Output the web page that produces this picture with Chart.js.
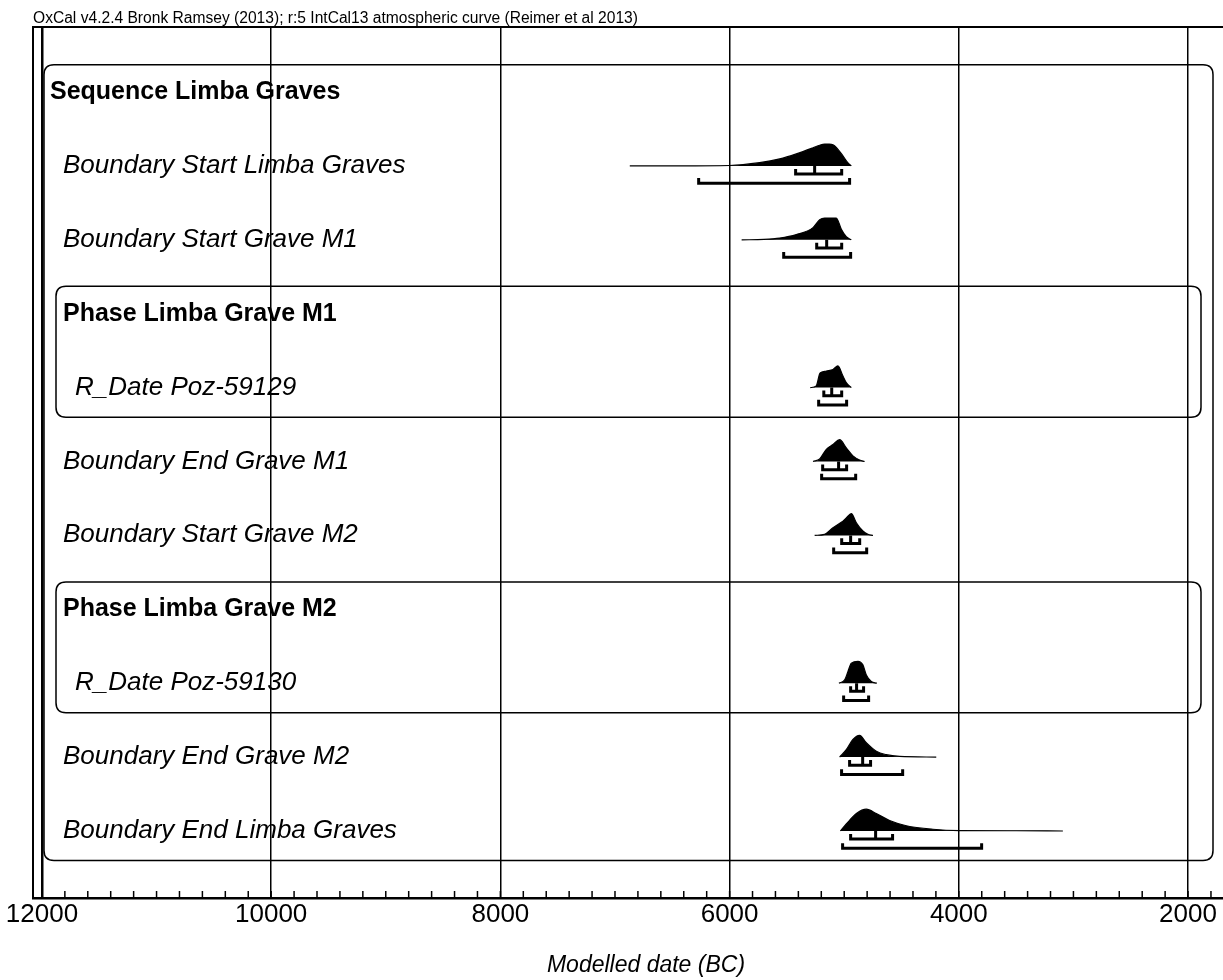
<!DOCTYPE html>
<html><head><meta charset="utf-8">
<script src="https://cdn.jsdelivr.net/npm/chart.js@4.4.1/dist/chart.umd.min.js"></script>
<style>html,body{margin:0;padding:0;background:#fff;} #wrap{width:1223px;height:980px;position:relative;}</style>
</head><body><div id="wrap"><canvas id="c" width="1223" height="980"></canvas></div>
<script>
const headerText = 'OxCal v4.2.4 Bronk Ramsey (2013); r:5 IntCal13 atmospheric curve (Reimer et al 2013)';
const axisTitle = 'Modelled date (BC)';
const rowLabels = ['Sequence Limba Graves','Boundary Start Limba Graves','Boundary Start Grave M1','Phase Limba Grave M1','R_Date Poz-59129','Boundary End Grave M1','Boundary Start Grave M2','Phase Limba Grave M2','R_Date Poz-59130','Boundary End Grave M2','Boundary End Limba Graves'];
const rowKinds = ['sequence','boundary','boundary','phase','date','boundary','boundary','phase','date','boundary','boundary'];
const groupStartRows = [0, 3, 7];
const groupEndRows = [10, 4, 8];
const xTickValues = [12000, 10000, 8000, 6000, 4000, 2000];

// posterior density outlines (year BC, relative probability)
const startLimbaYears = [6871, 6435, 6000, 5738, 5563, 5418, 5272, 5214, 5171, 5130, 5098, 5069, 5011, 4967, 4938];
const startLimbaDensity = [0, 0, 0.02, 0.15, 0.32, 0.55, 0.83, 0.95, 1, 1, 0.97, 0.85, 0.46, 0.14, 0];
const startM1Years = [5895, 5700, 5563, 5418, 5272, 5214, 5171, 5069, 5025, 4982, 4938];
const startM1Density = [0, 0.02, 0.08, 0.24, 0.56, 0.92, 1, 1, 0.48, 0.14, 0];
const poz59129Years = [5296, 5244, 5214, 5200, 5156, 5098, 5055, 5011, 4982, 4938];
const poz59129Density = [0, 0.08, 0.64, 0.7, 0.76, 0.83, 1, 0.53, 0.23, 0];
const endM1Years = [5272, 5214, 5156, 5098, 5040, 4982, 4924, 4866, 4822];
const endM1Density = [0, 0.12, 0.56, 0.78, 1, 0.63, 0.26, 0.07, 0];
const startM2Years = [5258, 5171, 5098, 5025, 4982, 4938, 4894, 4837, 4793, 4749];
const startM2Density = [0, 0.05, 0.35, 0.6, 0.8, 1, 0.58, 0.2, 0.05, 0];
const poz59130Years = [5046, 4996, 4967, 4938, 4880, 4837, 4807, 4764, 4715];
const poz59130Density = [0, 0.15, 0.54, 0.92, 1, 0.84, 0.38, 0.08, 0];
const endM2Years = [5040, 4982, 4924, 4866, 4807, 4720, 4633, 4517, 4197];
const endM2Density = [0, 0.34, 0.81, 1, 0.66, 0.27, 0.11, 0.03, 0];
const endLimbaYears = [5034, 4982, 4894, 4807, 4720, 4604, 4458, 4226, 3993, 3498, 3092];
const endLimbaDensity = [0, 0.32, 0.8, 1, 0.8, 0.48, 0.24, 0.08, 0.02, 0.01, 0];

const distRows = [1, 2, 4, 5, 6, 8, 9, 10];
const distYears = [startLimbaYears, startM1Years, poz59129Years, endM1Years, startM2Years, poz59130Years, endM2Years, endLimbaYears];
const distDensity = [startLimbaDensity, startM1Density, poz59129Density, endM1Density, startM2Density, poz59130Density, endM2Density, endLimbaDensity];

// highest posterior density ranges and medians
const range68From = [5424, 5240, 5178, 5188, 5022, 4944, 4953, 4944];
const range68To   = [5022, 5022, 5022, 4979, 4865, 4831, 4770, 4578];
const medianYears = [5258, 5153, 5109, 5049, 4944, 4892, 4839, 4726];
const range95From = [6270, 5528, 5223, 5197, 5092, 5005, 5023, 5014];
const range95To   = [4953, 4944, 4979, 4900, 4804, 4787, 4490, 3801];

const FONT = '"Liberation Sans", Arial, Helvetica, sans-serif';
const PEAK = 0.295, OFF68 = 0.11, OFF95 = 0.235, HOOK = 0.07;

const datasets = [];
distRows.forEach((row, i) => {
  datasets.push({
    data: distYears[i].map((yr, j) => ({x: yr, y: row - PEAK * distDensity[i][j]})),
    borderColor: '#000', backgroundColor: '#000', borderWidth: 1.2,
    fill: {value: row}, pointRadius: 0, cubicInterpolationMode: 'monotone'
  });
  const bracket = (a, b, off) => ({
    data: [{x: a, y: row + off - HOOK}, {x: a, y: row + off}, {x: b, y: row + off}, {x: b, y: row + off - HOOK}],
    borderColor: '#000', borderWidth: 3, fill: false, pointRadius: 0, tension: 0, borderJoinStyle: 'miter'
  });
  datasets.push(bracket(range68From[i], range68To[i], OFF68));
  datasets.push(bracket(range95From[i], range95To[i], OFF95));
  datasets.push({
    data: [{x: medianYears[i], y: row}, {x: medianYears[i], y: row + OFF68}],
    borderColor: '#000', borderWidth: 3, fill: false, pointRadius: 0
  });
});

function roundBox(ctx, l, t, r, b, rad) {
  ctx.beginPath();
  ctx.moveTo(l + rad, t); ctx.lineTo(r - rad, t); ctx.quadraticCurveTo(r, t, r, t + rad);
  ctx.lineTo(r, b - rad); ctx.quadraticCurveTo(r, b, r - rad, b);
  ctx.lineTo(l + rad, b); ctx.quadraticCurveTo(l, b, l, b - rad);
  ctx.lineTo(l, t + rad); ctx.quadraticCurveTo(l, t, l + rad, t);
  ctx.stroke();
}

const deco = {
  id: 'deco',
  afterDraw(chart) {
    const {ctx, chartArea: a, scales: {x, y}} = chart;
    ctx.save();
    ctx.strokeStyle = '#000'; ctx.fillStyle = '#000';
    // frame
    ctx.lineWidth = 2;
    ctx.beginPath(); ctx.moveTo(a.left, a.bottom); ctx.lineTo(a.left, a.top); ctx.lineTo(a.right, a.top); ctx.stroke();
    // minor ticks
    ctx.lineWidth = 1.5;
    const step = 200;
    for (let v = Math.ceil(x.min / step) * step; v <= x.max; v += step) {
      const px = x.getPixelForValue(v);
      ctx.beginPath(); ctx.moveTo(px, a.bottom); ctx.lineTo(px, a.bottom - 7); ctx.stroke();
    }
    // group boxes
    ctx.lineWidth = 1.5;
    groupStartRows.forEach((s, i) => {
      const inset = rowKinds[s] === 'sequence' ? 11 : 23;
      const rinset = rowKinds[s] === 'sequence' ? 10 : 22;
      roundBox(ctx, a.left + inset, y.getPixelForValue(s - 0.37), a.right - rinset, y.getPixelForValue(groupEndRows[i] + 0.4), 10);
    });
    // row labels
    ctx.textBaseline = 'alphabetic'; ctx.textAlign = 'left';
    rowLabels.forEach((lab, i) => {
      const k = rowKinds[i];
      const bold = k === 'sequence' || k === 'phase';
      ctx.font = (bold ? 'bold 25px ' : 'italic 26px ') + FONT;
      const indent = k === 'sequence' ? 17 : (k === 'date' ? 42 : 30);
      ctx.fillText(lab, a.left + indent, y.getPixelForValue(i) + 7);
    });
    // header
    ctx.font = '15.6px ' + FONT;
    ctx.fillText(headerText, a.left, a.top - 4);
    // axis title
    ctx.font = 'italic 23px ' + FONT;
    ctx.textAlign = 'center';
    ctx.fillText(axisTitle, (a.left + a.right) / 2 + 18, 972);
    ctx.restore();
  }
};

new Chart(document.getElementById('c'), {
  type: 'line',
  data: {datasets},
  options: {
    responsive: false, animation: false,
    layout: {padding: {left: 33, top: 27, right: 0, bottom: 0}},
    plugins: {legend: {display: false}, tooltip: {enabled: false}, title: {display: false}},
    scales: {
      x: {
        type: 'linear', reverse: true, min: 1695, max: 12078,
        afterFit: s => { s.height = 82; },
        afterBuildTicks: s => { s.ticks = xTickValues.map(v => ({value: v})); },
        ticks: {font: {family: FONT, size: 26}, color: '#000', padding: 1, maxRotation: 0, autoSkip: false, callback: v => String(v)},
        grid: {color: '#000', lineWidth: ctx => (ctx.tick && ctx.tick.value === 12000 ? 2.5 : 1.5), drawTicks: false},
        border: {display: true, color: '#000', width: 2.5}
      },
      y: {
        type: 'linear', reverse: true, min: -0.88, max: 10.907, display: false
      }
    }
  },
  plugins: [deco]
});
</script></body></html>
